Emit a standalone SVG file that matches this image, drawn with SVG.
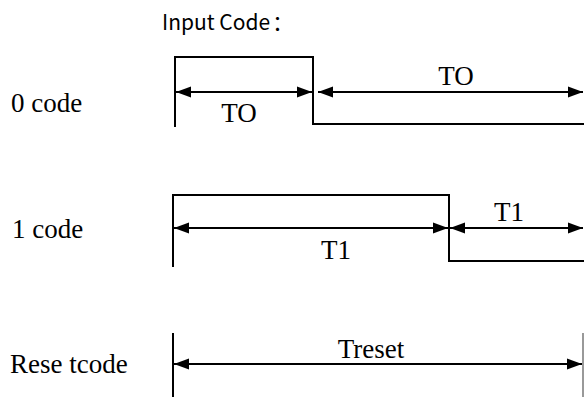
<svg xmlns="http://www.w3.org/2000/svg" width="584" height="398" viewBox="0 0 584 398">
<style>
.wave{fill:none;stroke:#000;stroke-width:2}
.arr{fill:none;stroke:#000;stroke-width:2;marker-start:url(#ah);marker-end:url(#ah)}
.lbl{font-family:"Liberation Serif","Times New Roman",serif;font-size:27px;fill:#000}
.ttl{font-family:"Noto Sans CJK SC","Noto Sans",sans-serif;font-size:21px;fill:#000}
</style>
<defs>
<marker id="ah" markerUnits="userSpaceOnUse" markerWidth="16" markerHeight="12" refX="15" refY="6" orient="auto-start-reverse" viewBox="0 0 16 12">
<path d="M0,0.5 L15,6 L0,11.5 Z" fill="#000"/>
</marker>
</defs>
<rect width="584" height="398" fill="#fff"/>
<g id="title"><text class="ttl" x="162" y="30">Input Code<tspan dx="2">：</tspan></text></g>
<g id="label-0"><text class="lbl" x="11" y="112">0 code</text></g>
<g id="label-1"><text class="lbl" x="12" y="238">1 code</text></g>
<g id="label-reset"><text class="lbl" x="10" y="373">Rese tcode</text></g>
<g id="wave-0"><path class="wave" d="M175,127 V57 H313 V124 H584"/></g>
<g id="wave-1"><path class="wave" d="M173,267 V195 H449 V261 H584"/></g>
<g id="wave-reset"><path class="wave" d="M173,397 V333"/><path d="M583,333 V397" fill="none" stroke="#777" stroke-width="1.5"/></g>
<g id="connectors">
<path class="arr" d="M176,92 H312"/>
<path class="arr" d="M318,92 H583"/>
<path class="arr" d="M174,228 H448"/>
<path class="arr" d="M450,228 H583"/>
<path class="arr" d="M174,364 H582"/>
</g>
<g id="dim-labels">
<text class="lbl" x="239" y="122" text-anchor="middle">TO</text>
<text class="lbl" x="456" y="85" text-anchor="middle">TO</text>
<text class="lbl" x="336" y="259" text-anchor="middle">T1</text>
<text class="lbl" x="509" y="221" text-anchor="middle">T1</text>
<text class="lbl" x="371" y="358" text-anchor="middle">Treset</text>
</g>
</svg>
